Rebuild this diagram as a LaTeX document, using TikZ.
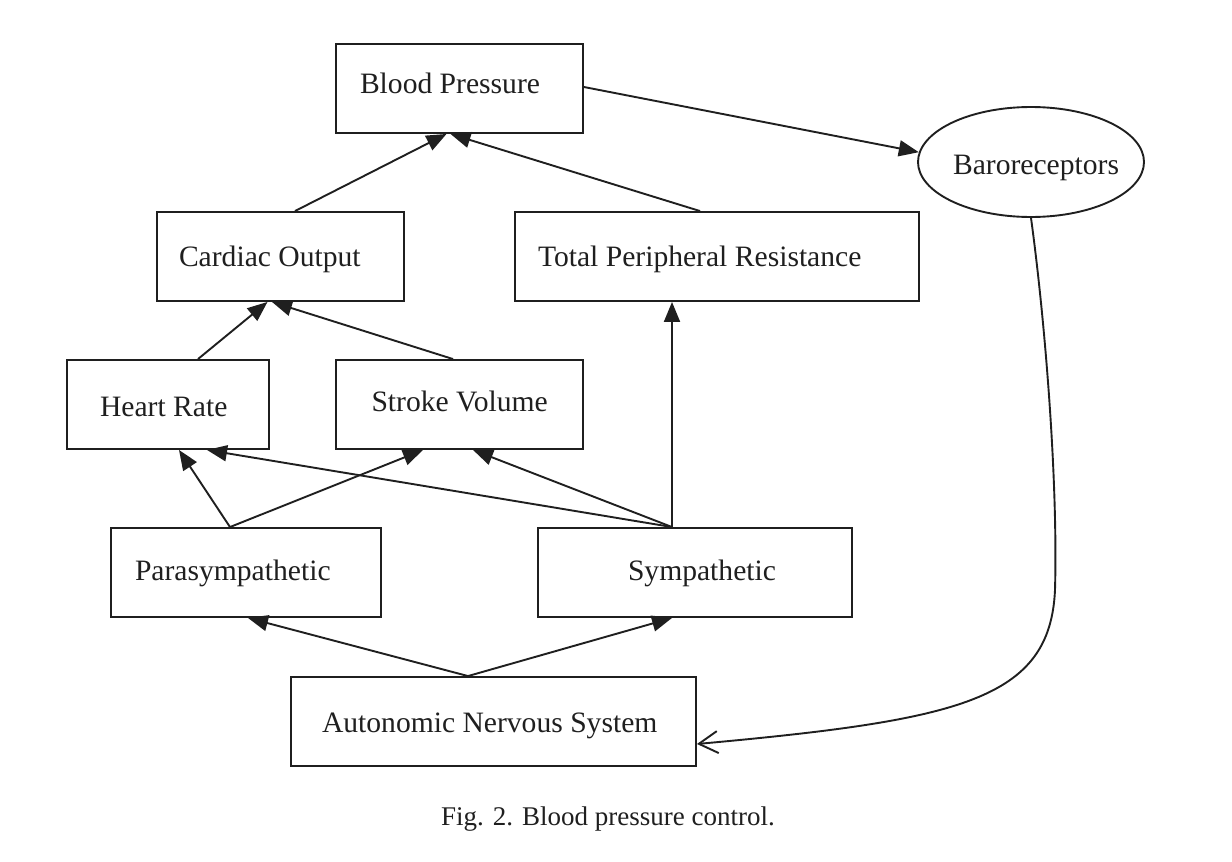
\documentclass[tikz,border=0pt]{standalone}
\usepackage{fontspec}
\setmainfont{Liberation Serif}
\usetikzlibrary{arrows.meta,shapes.geometric}
\newcommand{\bt}[3]{\makebox[0pt][l]{\hspace*{#1pt}\raisebox{-#2pt}[0pt][0pt]{#3}}}
\begin{document}
\begin{tikzpicture}[x=1pt,y=-1pt,
  box/.style={draw=black!88, line width=1.9pt, rectangle, inner sep=0pt,
    minimum height=89pt, text=black!88, font=\fontsize{29.6}{34}\selectfont},
  oval/.style={draw=black!88, line width=1.9pt, ellipse, inner sep=0pt,
    minimum width=226pt, minimum height=110pt, text=black!88,
    font=\fontsize{29.6}{34}\selectfont},
  arr/.style={draw=black!88, line width=1.9pt, -{Triangle[length=20pt,width=16pt]}},
  barb/.style={draw=black!88, line width=1.9pt, -{Straight Barb[length=19pt,width=22pt]}}]
\useasboundingbox (0,0) rectangle (1232,862);
% nodes
\node[box, minimum width=247pt] (bp) at (459.5,88.5) {\bt{-99.5}{4.5}{Blood Pressure}};
\node[oval] (baro) at (1031,162) {\bt{-78}{12}{Baroreceptors}};
\node[box, minimum width=247pt] (co) at (280.5,256.5) {\bt{-101.5}{10.2}{Cardiac Output}};
\node[box, minimum width=404pt] (tpr) at (717,256.5) {\bt{-179}{10.2}{Total Peripheral Resistance}};
\node[box, minimum width=202pt] (hr) at (168,404.5) {\bt{-68}{11.5}{Heart Rate}};
\node[box, minimum width=247pt] (sv) at (459.5,404.5) {\bt{-88}{7.2}{Stroke Volume}};
\node[box, minimum width=270pt] (para) at (246,572.5) {\bt{-111}{7.5}{Parasympathetic}};
\node[box, minimum width=314pt] (symp) at (695,572.5) {\bt{-67}{7.5}{Sympathetic}};
\node[box, minimum width=405pt] (ans) at (493.5,721.5) {\bt{-171.5}{10.8}{Autonomic Nervous System}};
\node[font=\fontsize{27}{32}\selectfont, text=black!88, inner sep=0pt, anchor=base west] (cap) at (441,825) {Fig. 2. Blood pressure control.};
% connectors
\draw[arr] ([xshift=14.5pt]co.north) -- ([xshift=-13pt]bp.south);
\draw[arr] ([xshift=-17pt]tpr.north) -- ([xshift=-9pt]bp.south);
\draw[arr] ([yshift=1.5pt]bp.east) -- (baro.175);
\coordinate (bend) at (1055,590);
\draw[barb] (baro.south) .. controls (1045,320) and (1058,480) .. (bend)
  .. controls (1050,700) and (960,720) .. ([yshift=-22.5pt]ans.east);
\draw[arr] ([xshift=30pt]hr.north) -- ([xshift=-13pt]co.south);
\draw[arr] ([xshift=-6.5pt]sv.north) -- ([xshift=-8.5pt]co.south);
\draw[arr] ([xshift=-16pt]para.north) -- ([xshift=11pt]hr.south);
\draw[arr] ([xshift=-16pt]para.north) -- ([xshift=-36.5pt]sv.south);
\draw[arr] ([xshift=-23pt]symp.north) -- ([xshift=39pt]hr.south);
\draw[arr] ([xshift=-23pt]symp.north) -- ([xshift=13.5pt]sv.south);
\draw[arr] ([xshift=-23pt]symp.north) -- ([xshift=-45pt]tpr.south);
\draw[arr] ([xshift=-25.5pt]ans.north) -- ([xshift=2pt]para.south);
\draw[arr] ([xshift=-25.5pt]ans.north) -- ([xshift=-23pt]symp.south);
\end{tikzpicture}
\end{document}
